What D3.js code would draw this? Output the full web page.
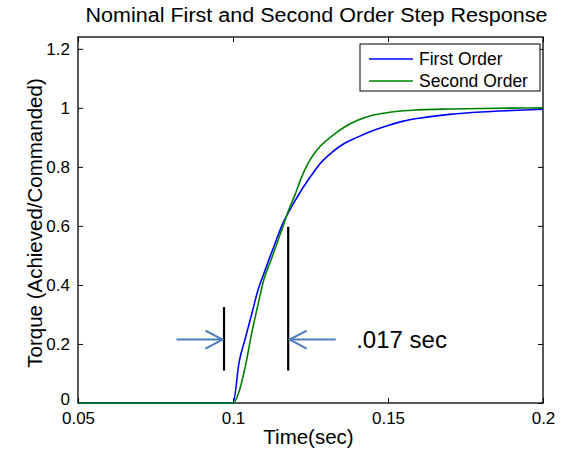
<!DOCTYPE html>
<html>
<head>
<meta charset="utf-8">
<script src="https://cdn.jsdelivr.net/npm/d3@7"></script>
<style>
  body { margin: 0; background: #fff; }
  svg { display: block; }
  text { font-family: "Liberation Sans", Arial, sans-serif; }
</style>
</head>
<body>
<div id="chart"></div>
<script>
// time grid (sec) and responses
const time = [0.05, 0.1, 0.102, 0.104, 0.106, 0.108, 0.110, 0.112, 0.114, 0.116, 0.118,
              0.120, 0.122, 0.124, 0.126, 0.128, 0.132, 0.136, 0.140, 0.145, 0.150,
              0.155, 0.160, 0.170, 0.180, 0.190, 0.200];
const firstOrder = [0, 0, 0.14, 0.22, 0.30, 0.38, 0.44, 0.497, 0.553, 0.607, 0.648,
                    0.685, 0.72, 0.752, 0.782, 0.81, 0.85, 0.88, 0.90, 0.922, 0.94,
                    0.955, 0.965, 0.978, 0.986, 0.991, 0.995];
const secondOrder = [0, 0, 0.04, 0.125, 0.235, 0.33, 0.42, 0.477, 0.535, 0.595, 0.655,
                     0.705, 0.762, 0.808, 0.842, 0.868, 0.905, 0.935, 0.957, 0.975, 0.984,
                     0.99, 0.993, 0.996, 0.998, 0.999, 1.0];
const seriesNames = ["First Order", "Second Order"];
const seriesColors = ["#0000ff", "#008000"];

const xTicks = [0.05, 0.1, 0.15, 0.2];
const xTickLabels = ["0.05", "0.1", "0.15", "0.2"];
const yTicks = [0, 0.2, 0.4, 0.6, 0.8, 1, 1.2];
const yTickLabels = ["0", "0.2", "0.4", "0.6", "0.8", "1", "1.2"];

// annotation: markers bracketing the .017 sec delay
const markerTimes = [0.0971, 0.1178];
const markerTops = [0.325, 0.597];
const markerBottom = 0.11;
const arrowLevel = 0.215;
const delayLabel = ".017 sec";

const W = 564, H = 452;
const margin = { top: 37, right: 21, bottom: 49, left: 78 };
const width = W - margin.left - margin.right,
      height = H - margin.top - margin.bottom;

const x = d3.scaleLinear().domain([0.05, 0.2]).range([0, width]);
const y = d3.scaleLinear().domain([0, 1.24]).range([height, 0]);

const svg = d3.select("#chart")
  .append("svg")
    .attr("width", W)
    .attr("height", H)
  .append("g")
    .attr("transform", `translate(${margin.left},${margin.top})`);

// axes box with inward ticks on all sides
svg.append("g")
    .attr("transform", `translate(0,${height})`)
    .call(d3.axisBottom(x).tickValues(xTicks).tickSizeInner(-5).tickSizeOuter(0)
      .tickFormat((d, i) => xTickLabels[i]).tickPadding(9))
    .call(g => g.select(".domain").remove())
    .selectAll("text")
      .attr("font-size", 17)
      .attr("fill", "#000");

svg.append("g")
    .call(d3.axisTop(x).tickValues(xTicks).tickSizeInner(-5).tickSizeOuter(0).tickFormat(""))
    .call(g => g.select(".domain").remove());

svg.append("g")
    .call(d3.axisLeft(y).tickValues(yTicks).tickSizeInner(-5).tickSizeOuter(0)
      .tickFormat((d, i) => yTickLabels[i]).tickPadding(8))
    .call(g => g.select(".domain").remove())
    .selectAll("text")
      .attr("font-size", 17)
      .attr("fill", "#000")
      .attr("dy", (d, i) => i === 0 ? "0.1em" : "0.32em");

svg.append("g")
    .attr("transform", `translate(${width},0)`)
    .call(d3.axisRight(y).tickValues(yTicks).tickSizeInner(-5).tickSizeOuter(0).tickFormat(""))
    .call(g => g.select(".domain").remove());

svg.selectAll(".tick line").attr("stroke", "#000");

svg.append("rect")
    .attr("width", width)
    .attr("height", height)
    .attr("fill", "none")
    .attr("stroke", "#000")
    .attr("stroke-width", 1.3);

// curves
const series = [firstOrder, secondOrder];
const line = d3.line()
    .x((d, i) => x(time[i]))
    .y(d => y(d))
    .curve(d3.curveMonotoneX);

svg.selectAll(".series")
  .data(series)
  .enter().append("path")
    .attr("class", "series")
    .attr("fill", "none")
    .attr("stroke", (d, i) => seriesColors[i])
    .attr("stroke-width", 1.6)
    .attr("d", line);

// black marker lines
svg.selectAll(".marker")
  .data(markerTimes)
  .enter().append("line")
    .attr("class", "marker")
    .attr("x1", d => x(d))
    .attr("x2", d => x(d))
    .attr("y1", (d, i) => y(markerTops[i]))
    .attr("y2", y(markerBottom))
    .attr("stroke", "#000")
    .attr("stroke-width", 2.2);

// blue arrows pointing at the markers
const arrowColor = "#4a7ebb";
const arrowLen = 46, headLen = 17, headHalf = 9;
markerTimes.forEach((t, i) => {
  const tip = x(t) + (i === 0 ? -1.5 : 1.5);
  const dir = i === 0 ? 1 : -1;
  const ay = y(arrowLevel);
  const g = svg.append("g")
      .attr("stroke", arrowColor)
      .attr("stroke-width", 2)
      .attr("fill", "none");
  g.append("line")
      .attr("x1", tip - dir * arrowLen).attr("x2", tip)
      .attr("y1", ay).attr("y2", ay);
  g.append("path")
      .attr("d", `M${tip - dir * headLen},${ay - headHalf}L${tip},${ay}L${tip - dir * headLen},${ay + headHalf}`);
});

svg.append("text")
    .attr("x", x(markerTimes[1]) + 68)
    .attr("y", y(arrowLevel) + 8)
    .attr("font-family", "'Open Sans', sans-serif")
    .attr("font-size", 24)
    .text(delayLabel);

// legend
const legend = svg.append("g")
    .attr("transform", `translate(${width - 183},7)`);
legend.append("rect")
    .attr("width", 180)
    .attr("height", 47)
    .attr("fill", "#fff")
    .attr("stroke", "#000");
seriesNames.forEach((name, i) => {
  const ly = 15 + i * 22;
  legend.append("line")
      .attr("x1", 9).attr("x2", 53)
      .attr("y1", ly).attr("y2", ly)
      .attr("stroke", seriesColors[i])
      .attr("stroke-width", 1.6);
  legend.append("text")
      .attr("x", 59)
      .attr("y", ly + 6)
      .attr("font-size", 17.5)
      .text(name);
});

// titles
svg.append("text")
    .attr("x", width / 2 + 6)
    .attr("y", -15)
    .attr("text-anchor", "middle")
    .attr("font-size", 20)
    .attr("textLength", 462)
    .attr("lengthAdjust", "spacingAndGlyphs")
    .text("Nominal First and Second Order Step Response");

svg.append("text")
    .attr("x", width / 2 - 2)
    .attr("y", height + 41)
    .attr("text-anchor", "middle")
    .attr("font-size", 20.5)
    .text("Time(sec)");

svg.append("text")
    .attr("transform", `translate(${-margin.left + 42},${height / 2 + 3}) rotate(-90)`)
    .attr("text-anchor", "middle")
    .attr("font-size", 20.5)
    .text("Torque (Achieved/Commanded)");
</script>
</body>
</html>
